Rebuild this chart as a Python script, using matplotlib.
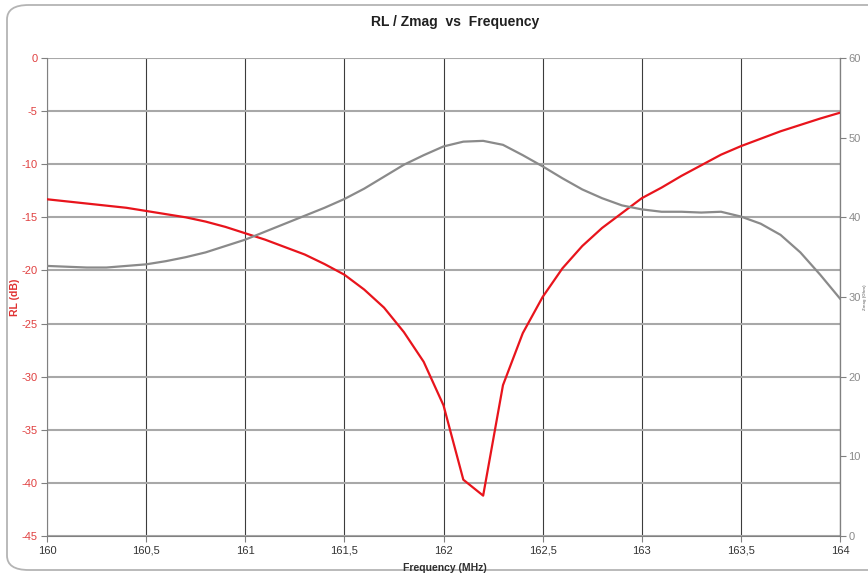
import numpy as np
import matplotlib
matplotlib.use('Agg')
import matplotlib.pyplot as plt
from matplotlib.patches import FancyBboxPatch

plt.rcParams['font.family'] = ['Liberation Sans', 'DejaVu Sans']
plt.rcParams['axes.unicode_minus'] = False

# Datos (paso de 0,1 MHz)
freq = [160.0, 160.1, 160.2, 160.3, 160.4, 160.5, 160.6, 160.7, 160.8, 160.9,
        161.0, 161.1, 161.2, 161.3, 161.4, 161.5, 161.6, 161.7, 161.8, 161.9,
        162.0, 162.1, 162.2, 162.3, 162.4, 162.5, 162.6, 162.7, 162.8, 162.9,
        163.0, 163.1, 163.2, 163.3, 163.4, 163.5, 163.6, 163.7, 163.8, 163.9,
        164.0]
rl = [-13.3, -13.5, -13.7, -13.9, -14.1, -14.4, -14.7, -15.0, -15.4, -15.9,
      -16.5, -17.1, -17.8, -18.5, -19.4, -20.4, -21.8, -23.5, -25.8, -28.6,
      -32.7, -39.7, -41.2, -30.8, -25.9, -22.5, -19.8, -17.7, -16.0, -14.6,
      -13.2, -12.2, -11.1, -10.1, -9.1, -8.3, -7.6, -6.9, -6.3, -5.7,
      -5.15]
zmag = [33.9, 33.8, 33.7, 33.7, 33.9, 34.1, 34.5, 35.0, 35.6, 36.4,
        37.2, 38.2, 39.2, 40.2, 41.2, 42.3, 43.6, 45.1, 46.6, 47.8,
        48.9, 49.5, 49.6, 49.1, 47.8, 46.4, 44.9, 43.5, 42.4, 41.5,
        41.0, 40.7, 40.7, 40.6, 40.7, 40.1, 39.2, 37.8, 35.6, 32.8,
        29.8]

x_ticks = [160, 160.5, 161, 161.5, 162, 162.5, 163, 163.5, 164]
x_labels = ['160', '160,5', '161', '161,5', '162', '162,5', '163', '163,5', '164']
rl_ticks = [0, -5, -10, -15, -20, -25, -30, -35, -40, -45]
z_ticks = [0, 10, 20, 30, 40, 50, 60]

red = '#e8141c'
gris = '#8a8a8a'

fig = plt.figure(figsize=(8.68, 5.76), dpi=100)

# marco redondeado del grafico (se sale por la derecha como en el original)
marco = FancyBboxPatch((7 / 868, 6 / 576), 1.05, 1 - 11 / 576,
                       boxstyle='round,pad=0,rounding_size=0.025',
                       transform=fig.transFigure, fill=False,
                       edgecolor='#b4b4b4', linewidth=1.3, clip_on=False)
fig.patches.append(marco)

ax = fig.add_axes([47 / 868, 40 / 576, 793 / 868, 478 / 576])
ax2 = ax.twinx()

ax.plot(freq, rl, color=red, linewidth=1.6, zorder=3)
ax2.plot(freq, zmag, color=gris, linewidth=1.6, zorder=3)

ax.set_xlim(160, 164)
ax.set_ylim(-45, 0)
ax2.set_ylim(0, 60)

ax.set_xticks(x_ticks)
ax.set_xticklabels(x_labels)
ax.set_yticks(rl_ticks)
ax2.set_yticks(z_ticks)

# rejilla: vertical oscura y fina, horizontal gris y gruesa
ax.xaxis.grid(True, color='#3c3c3c', linewidth=0.8)
ax.yaxis.grid(True, color='#a8a8a8', linewidth=1.5)
ax.set_axisbelow(True)

ax.spines['top'].set_visible(False)
ax2.spines['top'].set_visible(False)
ax.spines['left'].set_color('#808080')
ax.spines['bottom'].set_color('#808080')
ax2.spines['right'].set_color('#808080')
ax2.spines['left'].set_visible(False)
ax2.spines['bottom'].set_visible(False)

ax.tick_params(axis='y', colors='#808080', labelcolor='#e04040', labelsize=8,
               length=4, direction='out', pad=3)
ax.tick_params(axis='x', colors='#808080', labelcolor='#333333', labelsize=8,
               length=4, direction='out', pad=3)
ax2.tick_params(axis='y', colors='#808080', labelcolor='#8a8a8a', labelsize=8,
                length=4, direction='out', pad=2)

ax.set_ylabel('RL (dB)', color='#e03030', fontsize=7.5, fontweight='bold', labelpad=1)

# etiqueta del eje derecho, diminuta y pegada al borde
fig.text(865.2 / 868, 1 - 297 / 576, 'Zmag (Ohm)', rotation=90, ha='center', va='center',
         fontsize=3.2, fontweight='bold', color='#8a8a8a')

fig.text(445 / 868, 1 - 568 / 576, 'Frequency (MHz)', ha='center', va='center',
         fontsize=7.5, fontweight='bold', color='#303030')
fig.text(455 / 868, 1 - 22 / 576, 'RL / Zmag  vs  Frequency', ha='center', va='center',
         fontsize=10, fontweight='bold', color='#202020')

fig.savefig('out.png', dpi=100)
